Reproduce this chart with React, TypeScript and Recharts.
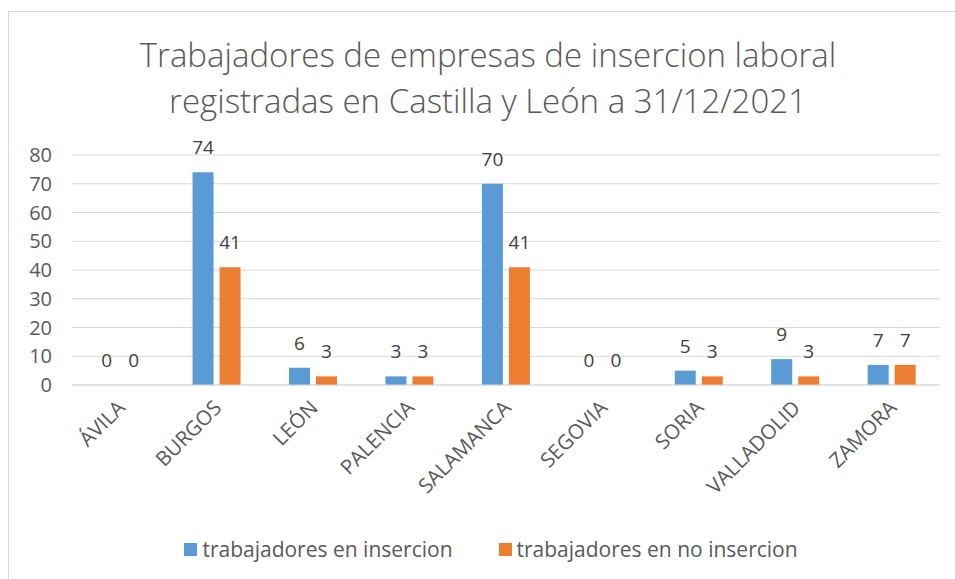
import {
  Bar,
  BarChart,
  CartesianGrid,
  LabelList,
  Legend,
  XAxis,
  YAxis,
} from 'recharts'

const provincias = ['ÁVILA', 'BURGOS', 'LEÓN', 'PALENCIA', 'SALAMANCA', 'SEGOVIA', 'SORIA', 'VALLADOLID', 'ZAMORA']
const enInsercion = [0, 74, 6, 3, 70, 0, 5, 9, 7]
const enNoInsercion = [0, 41, 3, 3, 41, 0, 3, 3, 7]
const ticksY = [0, 10, 20, 30, 40, 50, 60, 70, 80]

const AZUL = '#5B9BD5'
const NARANJA = '#ED7D31'
const FUENTE = '"Open Sans", sans-serif'

const datos = provincias.map((nombre, i) => ({
  nombre,
  insercion: enInsercion[i],
  noInsercion: enNoInsercion[i],
}))

function TickProvincia({ x, y, payload }: any) {
  return (
    <g transform={`translate(${x - 4},${y + 6})`}>
      <text
        transform="rotate(-45)"
        textAnchor="end"
        dy="0.7em"
        fill="#595959"
        fontSize={20.5}
        fontFamily={FUENTE}
      >
        {payload.value}
      </text>
    </g>
  )
}

// etiqueta encima de cada barra, tambien para los ceros
function EtiquetaValor(props: any) {
  const { x, y, width, value } = props
  return (
    <text
      x={x + width / 2}
      y={y - 18}
      textAnchor="middle"
      fill="#404040"
      fontSize={19}
      fontFamily={FUENTE}
    >
      {value}
    </text>
  )
}

function Leyenda() {
  const items = [
    { color: AZUL, texto: 'trabajadores en insercion' },
    { color: NARANJA, texto: 'trabajadores en no insercion' },
  ]
  return (
    <div style={{ display: 'flex', justifyContent: 'center', gap: 46, marginLeft: 34, fontFamily: FUENTE, fontSize: 21, color: '#595959' }}>
      {items.map((it) => (
        <div key={it.texto} style={{ display: 'flex', alignItems: 'center' }}>
          <span style={{ display: 'inline-block', width: 13, height: 13, background: it.color, marginRight: 5 }} />
          {it.texto}
        </div>
      ))}
    </div>
  )
}

export default function App() {
  return (
    <div
      style={{
        position: 'fixed',
        left: 8,
        top: 11,
        width: 970,
        height: 600,
        border: '1px solid #d9d9d9',
        background: '#fff',
        boxSizing: 'border-box',
      }}
    >
      <div
        style={{
          position: 'absolute',
          left: 0,
          top: 20,
          width: 958,
          textAlign: 'center',
          fontFamily: FUENTE,
          fontSize: 33,
          fontWeight: 300,
          lineHeight: '46px',
          color: '#595959',
        }}
      >
        Trabajadores de empresas de insercion laboral
        <br />
        registradas en Castilla y León a 31/12/2021
      </div>
      <div style={{ position: 'absolute', left: -1, top: -1 }}>
        <BarChart
          width={947}
          height={568}
          data={datos}
          margin={{ top: 144, right: 15, left: 0, bottom: 16 }}
          barCategoryGap="25%"
          barGap={6}
        >
          <CartesianGrid vertical={false} stroke="#d9d9d9" />
          <XAxis
            dataKey="nombre"
            height={150}
            tickLine={false}
            axisLine={{ stroke: '#d9d9d9' }}
            interval={0}
            tick={<TickProvincia />}
          />
          <YAxis
            width={64}
            domain={[0, 80]}
            ticks={ticksY}
            tickLine={false}
            axisLine={false}
            tickMargin={14}
            tick={{ fill: '#595959', fontSize: 20, fontFamily: FUENTE }}
          />
          <Legend verticalAlign="bottom" height={28} content={<Leyenda />} />
          <Bar dataKey="insercion" fill={AZUL} minPointSize={0.01} isAnimationActive={false}>
            <LabelList dataKey="insercion" content={<EtiquetaValor />} />
          </Bar>
          <Bar dataKey="noInsercion" fill={NARANJA} minPointSize={0.01} isAnimationActive={false}>
            <LabelList dataKey="noInsercion" content={<EtiquetaValor />} />
          </Bar>
        </BarChart>
      </div>
    </div>
  )
}
